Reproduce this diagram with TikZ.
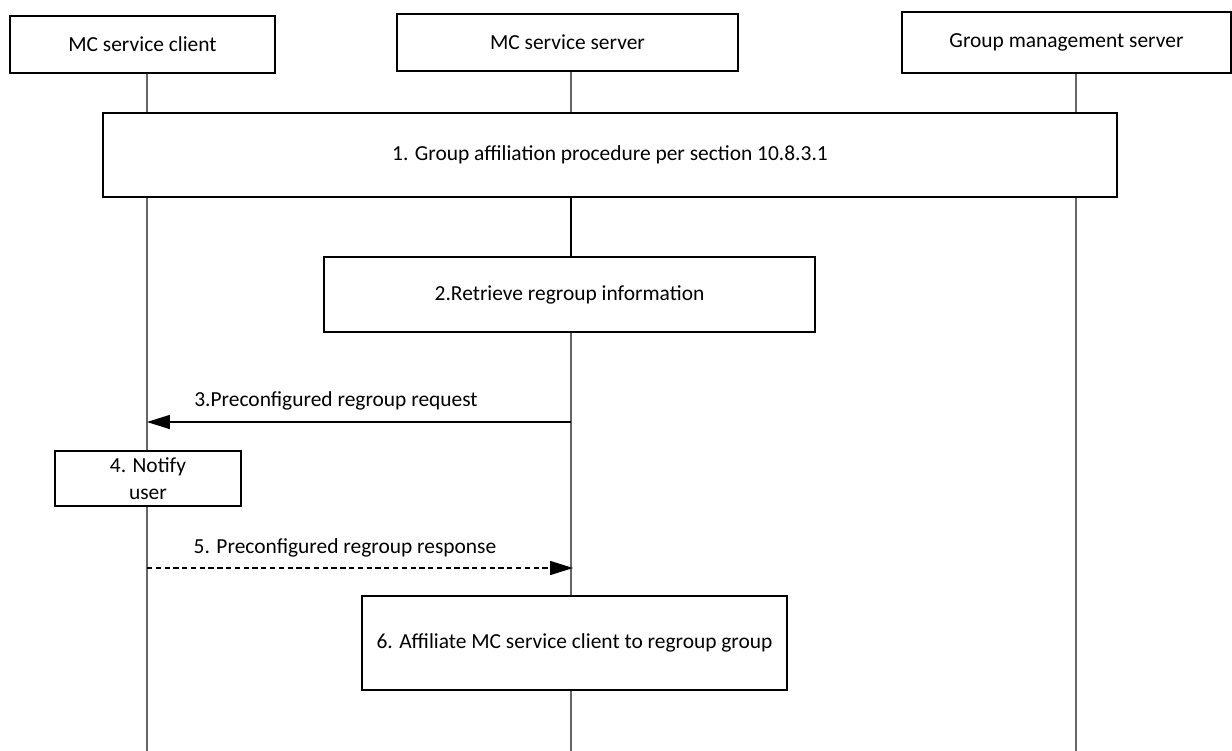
\documentclass[tikz,border=0pt]{standalone}
\usepackage{fontspec}
\setmainfont{Carlito}
\usetikzlibrary{arrows.meta}

\tikzset{
  entity/.style={draw, line width=0.7pt, fill=white, inner sep=0pt, align=center},
  stepbox/.style={draw, line width=0.7pt, fill=white, inner sep=0pt, align=center},
  lifeline/.style={draw=black!60, line width=0.6pt},
  msg/.style={line width=0.6pt, -{Triangle[length=13pt,width=8pt]}},
  lbl/.style={inner sep=0pt, anchor=center}
}

\begin{document}
\begin{tikzpicture}[x=0.02cm, y=-0.02cm, font=\fontsize{12.2}{15.3}\selectfont]
    \useasboundingbox (0,0) rectangle (1232,751);

    % Teilnehmer
    \node[entity, minimum width=5.3cm, minimum height=1.14cm] (client) at (142.5,44.5) {MC service client};
    \node[entity, minimum width=6.82cm, minimum height=1.14cm] (server) at (567.5,42.5) {MC service server};
    \node[entity, minimum width=6.58cm, minimum height=1.22cm] (gms) at (1066.5,42.5) {Group management server};

    % Lebenslinien
    \coordinate (cl-bot) at (147,751);
    \coordinate (sv-bot) at (571,751);
    \coordinate (gm-bot) at (1076,751);
    \draw[lifeline] (cl-bot |- client.south) -- (cl-bot);
    \draw[lifeline] (sv-bot |- server.south) -- (sv-bot);
    \draw[lifeline] (gm-bot |- gms.south) -- (gm-bot);

    % Schritte
    \node[stepbox, minimum width=20.28cm, minimum height=1.68cm] (affil) at (610,155) {1. Group affiliation procedure per section 10.8.3.1};
    \node[stepbox, minimum width=9.82cm, minimum height=1.5cm] (retrieve) at (569.5,294.5) {2.Retrieve regroup information};
    \draw[line width=1.2pt] (sv-bot |- affil.south) -- (sv-bot |- retrieve.north);

    \coordinate (req-s) at (571,422);
    \coordinate (req-e) at (147,422);
    \draw[msg] (req-s) -- (req-e);
    \node[lbl] (req) at (336,401) {3.Preconfigured regroup request};

    \node[stepbox, minimum width=3.72cm, minimum height=1.1cm] (notify) at (148,478.5) {4. Notify\\user};

    \coordinate (rsp-s) at (147,568);
    \coordinate (rsp-e) at (573,568);
    \draw[msg, dash pattern=on 3pt off 2pt] (rsp-s) -- (rsp-e);
    \node[lbl] (rsp) at (345,548) {5. Preconfigured regroup response};

    \node[stepbox, minimum width=8.5cm, minimum height=1.88cm] (join) at (574.5,643) {6. Affiliate MC service client to regroup group};

\end{tikzpicture}
\end{document}
